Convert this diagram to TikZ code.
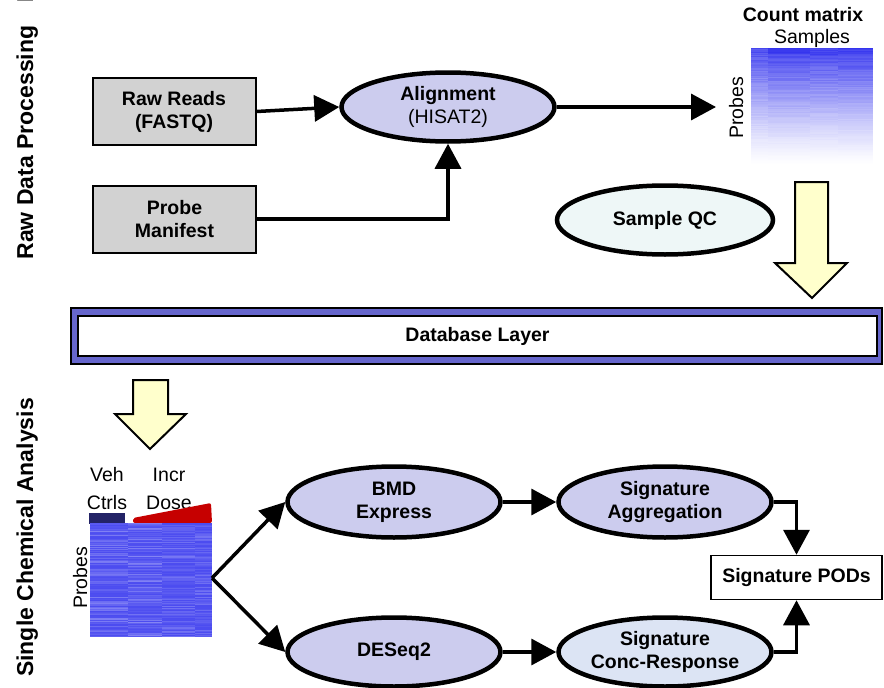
\documentclass[tikz,border=0pt]{standalone}
\usepackage{fontspec}
\setmainfont{Liberation Sans}
\usetikzlibrary{shapes.geometric,arrows.meta}

\definecolor{boxgray}{RGB}{210,210,210}
\definecolor{lav}{RGB}{204,204,238}
\definecolor{qcfill}{RGB}{238,247,247}
\definecolor{crfill}{RGB}{220,228,244}
\definecolor{blockyellow}{RGB}{255,255,204}
\definecolor{dbblue}{RGB}{102,102,204}
\definecolor{navy}{RGB}{35,35,102}
\definecolor{doseRed}{RGB}{198,0,0}
\definecolor{hmblue}{RGB}{76,76,240}
\definecolor{cmblue}{RGB}{52,52,238}

\newcommand\nodefont{\fontsize{19.5}{23}\selectfont}
\newcommand\sidefont{\fontsize{23}{26}\selectfont\bfseries}

\begin{document}
\begin{tikzpicture}[x=1pt,y=-1pt,
  inbox/.style={draw, line width=2pt, fill=boxgray, minimum width=163pt,
    minimum height=67pt, inner sep=0pt, align=center, font=\nodefont\bfseries},
  proc/.style={ellipse, draw, line width=4.5pt, fill=lav, inner sep=0pt,
    minimum width=213pt, minimum height=69pt, align=center, font=\nodefont\bfseries},
  flow/.style={line width=3.5pt, -{Triangle[length=25pt,width=26pt]}},
  sidelabel/.style={rotate=90, anchor=base, font=\sidefont, inner sep=0pt},
  plain/.style={font=\nodefont, inner sep=0pt},
  blockarrow/.style={draw, line width=2pt, fill=blockyellow, line join=miter}
]
\useasboundingbox (0,0) rectangle (884,688);

% ---- side labels ----
\node[rotate=90, anchor=base west, font=\sidefont, inner sep=0pt] (panel) at (33,3) {B};
\node[sidelabel] (rawlbl) at (33,142.5) {Raw Data Processing};
\node[sidelabel] (scalbl) at (33,537.5) {Single Chemical Analysis};

% ---- raw data processing ----
\node[inbox] (rawreads) at (174,111.5) {Raw Reads\\(FASTQ)};
\node[inbox] (manifest) at (174.5,219) {Probe\\Manifest};
\node[proc] (align) at (448,107) {Alignment\\{\mdseries (HISAT2)}};
\node[proc, fill=qcfill, minimum width=216pt, minimum height=69pt] (qc) at (665,220) {Sample QC};

\draw[flow] (rawreads.east) -- (align.west);
\draw[flow] (manifest.east) -| (align.south);

% count matrix
\node[plain, font=\nodefont\bfseries] (cmtitle) at (803,15) {Count matrix};
\node[plain] (cmsamples) at (812,38) {Samples};
\node[plain, rotate=90, anchor=base] (cmprobes) at (743,108) {Probes};
\coordinate (cmin) at (716,107);
\draw[flow] (align.east) -- (cmin);

\pgfmathsetseed{11}
\foreach \r in {0,...,116} {
  \foreach \a/\b/\k in {751/768/0.8,768/810/0.88,810/838/0.86,838/873/0.88} {
    \pgfmathsetmacro\op{max(0,min(1,(1-\r/117)^1.3*(\k+0.18*rnd)))}
    \fill[cmblue, opacity=\op] (\a,48+\r) rectangle (\b,49+\r);
  }
}

% block arrow into the database layer
\draw[blockarrow] (795,182) -- (828,182) -- (828,263) -- (847,263) -- (812,298)
  -- (775,263) -- (795,263) -- cycle;

% ---- database layer ----
\node[draw, line width=2pt, fill=dbblue, minimum width=811pt, minimum height=56pt,
  inner sep=0pt] (dbouter) at (476.5,336) {};
\node[draw, line width=2pt, fill=white, minimum width=799pt, minimum height=40pt,
  inner sep=0pt, font=\nodefont\bfseries] (db) at (477.5,336) {Database Layer};

% block arrow out of the database layer
\draw[blockarrow] (133,380) -- (168,380) -- (168,414) -- (186,414) -- (150,449)
  -- (115,414) -- (133,414) -- cycle;

% ---- single chemical analysis ----
\node[plain] (veh) at (107,475) {Veh};
\node[plain] (ctrls) at (107,503) {Ctrls};
\node[plain] (incr) at (169,475) {Incr};
\node[plain] (dose) at (169,503) {Dose};
\fill[navy] (89,513) rectangle (125,524);
\fill[doseRed, rounded corners=2pt] (133,518) -- (211,503) -- (212,523) -- (133,523) -- cycle;

\node[minimum width=122pt, minimum height=114pt, inner sep=0pt, fill=hmblue] (hm) at (151,580) {};
\pgfmathsetseed{5}
\foreach \r in {0,...,113} {
  \foreach \a/\b/\k in {90/128/0.3,128/162/0.32,162/195/0.26,195/212/0.22} {
    \pgfmathsetmacro\op{\k*rnd^2}
    \fill[white, opacity=\op] (\a,523+\r) rectangle (\b,524+\r);
  }
}
\node[plain, rotate=90, anchor=base] (hmprobes) at (87,578) {Probes};
\coordinate (fork) at (212,578);

\node[proc, minimum height=71pt] (bmd) at (394,502) {BMD\\Express};
\node[proc] (deseq) at (394,652) {DESeq2};
\node[proc, minimum height=71pt] (sigagg) at (665,502) {Signature\\Aggregation};
\node[proc, fill=crfill] (sigcr) at (665,652) {Signature\\Conc-Response};
\node[draw, line width=1.5pt, fill=white, minimum width=171pt, minimum height=44pt,
  inner sep=0pt, font=\nodefont\bfseries] (pods) at (796.5,577.5) {Signature PODs};

\draw[flow, line join=miter] (fork) -- (bmd.west);
\draw[flow] (fork) -- (deseq.west);
\draw[flow] (bmd.east) -- (sigagg.west);
\draw[flow] (deseq.east) -- (sigcr.west);
\draw[flow] (sigagg.east) -| (pods.north);
\draw[flow] (sigcr.east) -| (pods.south);
\end{tikzpicture}
\end{document}
